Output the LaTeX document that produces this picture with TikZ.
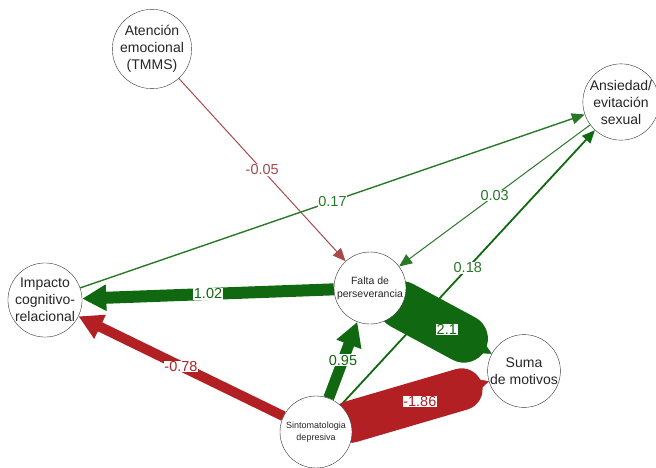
\documentclass[tikz,border=0pt]{standalone}
\usepackage{fontspec}
\setmainfont{Liberation Sans}
\usetikzlibrary{arrows.meta,backgrounds,calc}
\definecolor{posgreen}{RGB}{16,104,16}
\definecolor{posthin}{RGB}{40,120,40}
\definecolor{negred}{RGB}{178,32,36}
\definecolor{negthin}{RGB}{168,74,74}

\begin{document}
\begin{tikzpicture}[x=1pt,y=-1pt,
  var/.style={circle,draw=black!80,fill=white,minimum size=72pt,inner sep=0pt,
    align=center,text=black!85,font=\fontsize{14}{17}\selectfont},
  smallvar/.style={var,font=\fontsize{10.5}{13}\selectfont},
  tinyvar/.style={var,font=\fontsize{9}{12}\selectfont},
  wlab/.style={fill=white,inner sep=0.6pt,font=\fontsize{14.5}{15}\selectfont},
  lightedge/.style={line width=#1,-{Triangle[length=13pt,width=11pt]}},
  heavyedge/.style={line width=#1,-{Triangle[length=24pt,width=25pt]}},
  band/.style={line width=#1,line cap=round}
]
\useasboundingbox (0,0) rectangle (656,467);

\node[var] (tmms) at (152,49) {Atención\\emocional\\(TMMS)};
\node[var] (ansi) at (621,102) {Ansiedad/\\evitación\\sexual};
\node[var] (impa) at (45,300) {Impacto\\cognitivo-\\relacional};
\node[smallvar] (falt) at (370,288) {Falta de\\perseverancia};
\node[var] (suma) at (524,371) {Suma\\de motivos};
\node[tinyvar] (sint) at (316,432) {Sintomatologia\\depresiva};

\begin{scope}[on background layer]
% thin edges
\draw[lightedge=1pt,negthin] (tmms) -- node[wlab,text=negthin]{-0.05} (falt);
\draw[lightedge=1.4pt,posthin] (impa) -- node[wlab,text=posthin]{0.17} (ansi);
\draw[lightedge=1pt,posthin] (ansi) -- node[wlab,text=posthin]{0.03} (falt);
\draw[lightedge=1.8pt,posgreen] (sint) -- node[wlab,text=posthin]{0.18} (ansi);

% thick edges
\draw[heavyedge=12pt,posgreen] (falt) -- node[wlab,text=posgreen]{1.02} (impa);
\draw[heavyedge=10pt,negred] (sint) -- node[wlab,text=negred]{-0.78} (impa);
\draw[heavyedge=11pt,posgreen] (sint) -- node[wlab,text=posgreen]{0.95} (falt);

% wide bands
\coordinate (b21) at ($(falt)!0.61!(suma)$);
\draw[band=48pt,posgreen] (falt) -- (b21);
\draw[posgreen,-{Triangle[length=14pt,width=14pt]}] (b21) -- (suma);
\path (falt) -- node[wlab,text=posgreen]{2.1} (suma);

\coordinate (b186) at ($(sint)!0.70!(suma)$);
\draw[band=42pt,negred] (sint) -- (b186);
\draw[negred,-{Triangle[length=14pt,width=14pt]}] (b186) -- (suma);
\path (sint) -- node[wlab,text=negred]{-1.86} (suma);
\end{scope}
\end{tikzpicture}
\end{document}
